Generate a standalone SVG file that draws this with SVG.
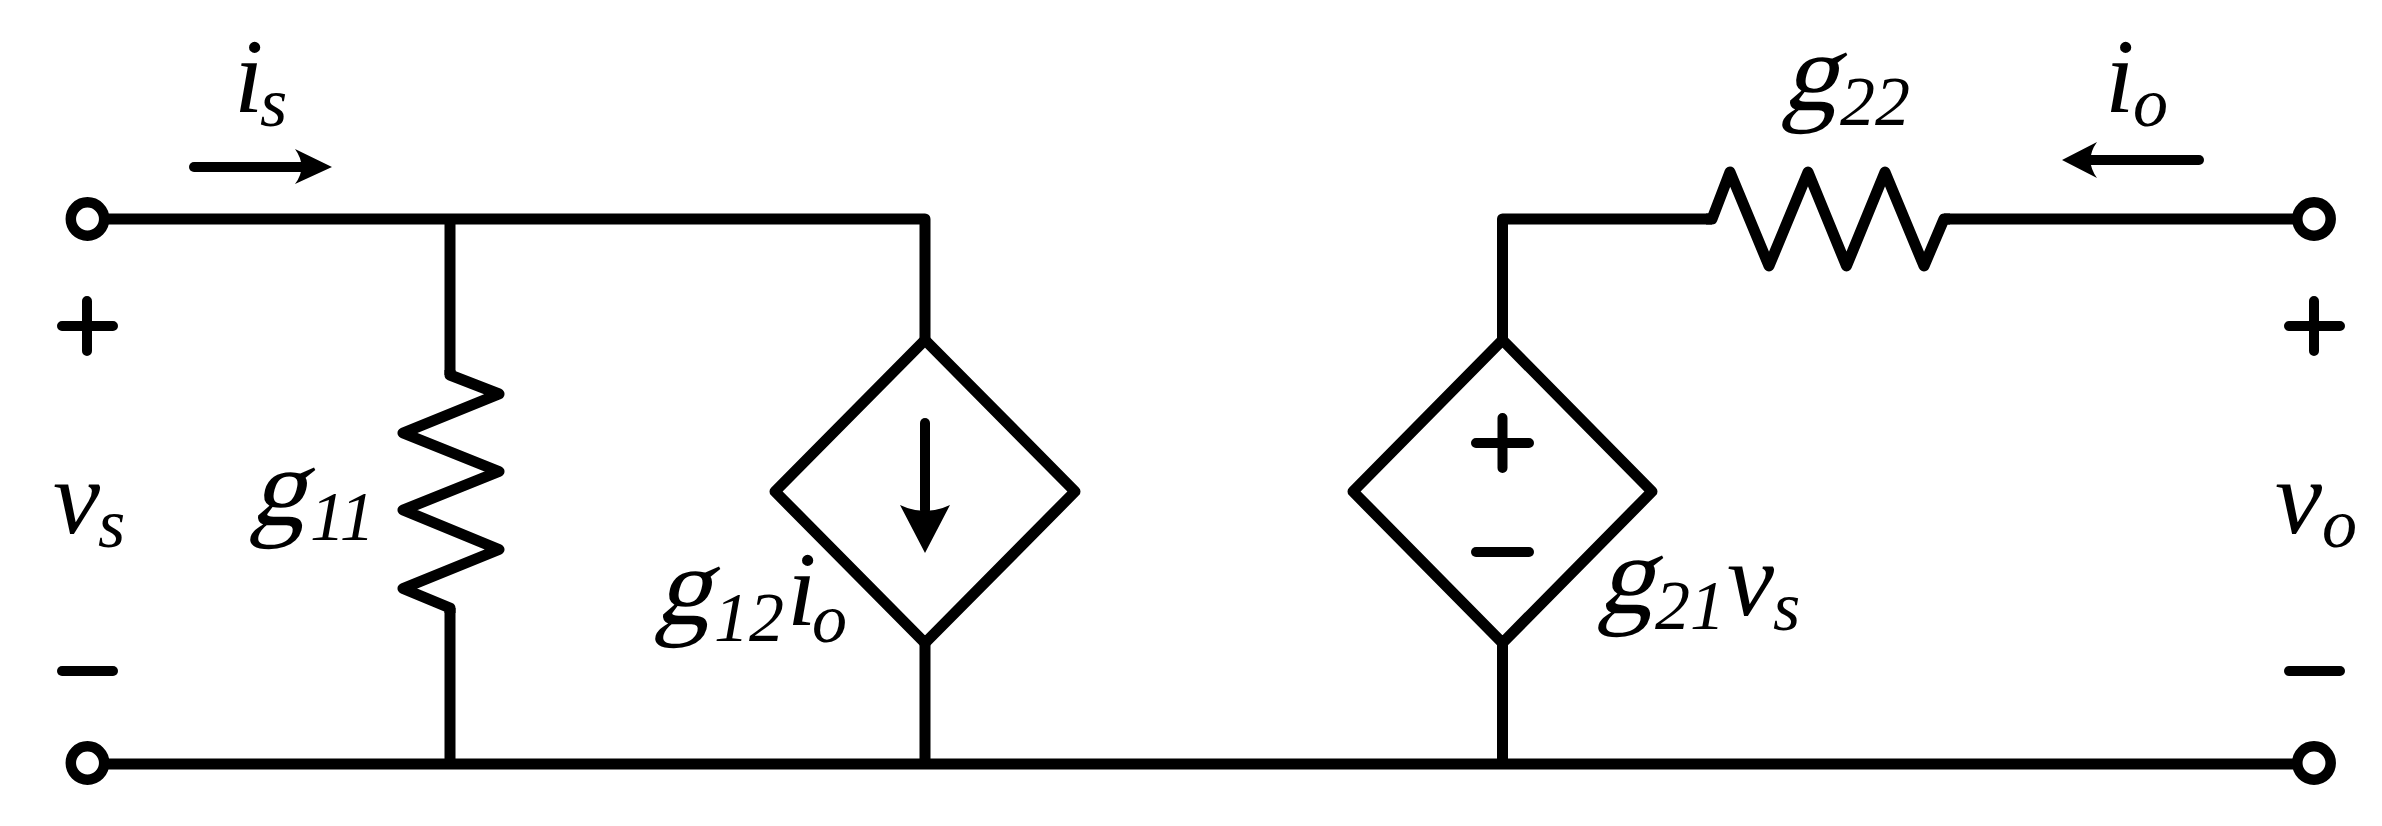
<svg xmlns="http://www.w3.org/2000/svg" width="2382" height="826" viewBox="0 0 2382 826">
<style>
.w{fill:none;stroke:#000;stroke-width:11;stroke-linejoin:round;stroke-linecap:butt}
.s{fill:none;stroke:#000;stroke-width:10;stroke-linecap:round}
.t{fill:#fff;stroke:#000;stroke-width:10.5}
.h{fill:#000;stroke:none}
text{font-family:"Liberation Serif","Times New Roman",serif;font-style:italic;fill:#000}
.b{font-size:106px}
.u{font-size:70px}
.g{font-size:112px;font-style:normal}
</style>
<rect width="2382" height="826" fill="#fff"/>
<g id="connectors">
<path class="w" d="M87 219H925V340"/>
<path class="w" d="M87 764H2314"/>
<path class="w" d="M925 643V764"/>
<path class="w" d="M1502.5 643V764"/>
<path class="w" d="M1502.5 340V219H1712"/>
<path class="w" d="M1944 219H2314"/>
<path class="w" d="M450 219V375"/>
<path class="w" d="M450 608V764"/>
</g>
<g id="terminal-in-top"><circle class="t" cx="87.5" cy="219" r="16.7"/></g>
<g id="terminal-in-bottom"><circle class="t" cx="87.5" cy="763" r="16.7"/></g>
<g id="terminal-out-top"><circle class="t" cx="2314" cy="219" r="16.7"/></g>
<g id="terminal-out-bottom"><circle class="t" cx="2314" cy="763" r="16.7"/></g>
<g id="g11">
<path class="w" d="M450 370V375L499 394L403 433L499 471.5L403 510L499 549.5L403 588.5L450 608V613"/>
<text class="g" transform="translate(249 525) skewX(-15)">g</text><text class="u" x="310" y="540">11</text>
</g>
<g id="g22">
<path class="w" d="M1706 219H1712L1730 172L1769 266L1808 172L1846.5 266L1885 172L1924 266L1944 219H1950"/>
<text class="g" transform="translate(1781 110) skewX(-15)">g</text><text class="u" x="1840" y="125">22</text>
</g>
<g id="g12-source">
<path class="w" d="M925 340L1075 491.5L925 643L775 491.5Z"/>
<path class="s" d="M925 423V510"/>
<path class="h" d="M900 505Q925 517 950 505L925 553Z"/>
<text class="g" transform="translate(654 624) skewX(-15)">g</text><text class="u" x="714" y="641">12</text><text class="b" x="787" y="625">i</text><text class="u" x="812" y="642">o</text>
</g>
<g id="g21-source">
<path class="w" d="M1502.5 340L1652 491.5L1502.5 643L1353 491.5Z"/>
<path class="s" d="M1476 443H1529M1502.5 418V468"/>
<path class="s" d="M1476 552H1529"/>
<text class="g" transform="translate(1597 613) skewX(-15)">g</text><text class="u" x="1655" y="629">21</text><text class="b" x="1727" y="615">v</text><text class="u" x="1773" y="630">s</text>
</g>
<g id="port-in">
<path class="s" d="M194 167H305"/>
<path class="h" d="M295 149Q308 167 295 184L332 167Z"/>
<path class="s" d="M62 326H113M87 301V351"/>
<path class="s" d="M62 671H113"/>
<text class="b" x="234" y="112">i</text><text class="u" x="260" y="126">s</text>
<text class="b" x="53" y="533">v</text><text class="u" x="98" y="547">s</text>
</g>
<g id="port-out">
<path class="s" d="M2199 160H2088"/>
<path class="h" d="M2097 142Q2084 160 2097 178L2062 160Z"/>
<path class="s" d="M2289 326H2340M2314 301V351"/>
<path class="s" d="M2289 671H2340"/>
<text class="b" x="2105" y="112">i</text><text class="u" x="2133" y="126">o</text>
<text class="b" x="2275" y="533">v</text><text class="u" x="2322" y="547">o</text>
</g>
</svg>
